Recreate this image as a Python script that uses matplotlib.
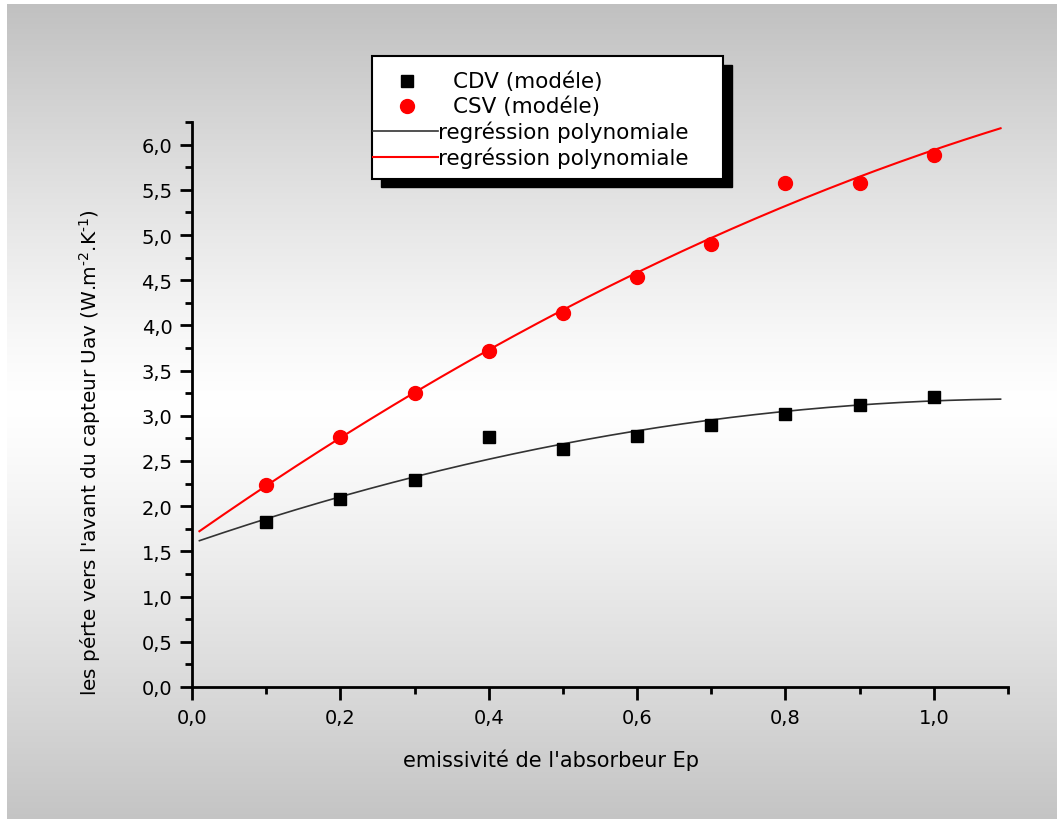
import numpy as np
import matplotlib
matplotlib.use("Agg")
import matplotlib.pyplot as plt
from matplotlib.ticker import MultipleLocator, FuncFormatter
from matplotlib.patches import Rectangle
from matplotlib.lines import Line2D

# ---- data ----
ep = [0.1, 0.2, 0.3, 0.4, 0.5, 0.6, 0.7, 0.8, 0.9, 1.0]
cdv = [1.83, 2.08, 2.29, 2.76, 2.63, 2.78, 2.90, 3.02, 3.12, 3.21]
csv = [2.24, 2.77, 3.25, 3.72, 4.14, 4.53, 4.90, 5.58, 5.58, 5.89]
fit_range = [0.01, 1.09]
x_ticks = [0.0, 0.2, 0.4, 0.6, 0.8, 1.0]
y_ticks = [0.0, 0.5, 1.0, 1.5, 2.0, 2.5, 3.0, 3.5, 4.0, 4.5, 5.0, 5.5, 6.0]
legend_labels = ["CDV (modéle)", "CSV (modéle)", "regréssion polynomiale", "regréssion polynomiale"]

W, H = 1057, 820
plt.rcParams['font.family'] = ['DejaVu Sans']
plt.rcParams['mathtext.default'] = 'regular'
fig = plt.figure(figsize=(W / 100, H / 100), dpi=100)
fig.patch.set_facecolor('white')

def fx(px):
    return px / W

def fy(py):
    return 1 - py / H

# background gradient panel
bg = fig.add_axes([fx(7), fy(820), fx(1057) - fx(7), fy(5) - fy(820)], zorder=-10)
rows = np.linspace(0, 1, 400)
mid = 0.49
vals = np.where(rows < mid, 1 - (1 - 0.755) * ((mid - rows) / mid) ** 1.2,
                1 - (1 - 0.77) * ((rows - mid) / (1 - mid)) ** 1.2)
img = np.repeat(vals[:, None], 2, axis=1)
bg.imshow(np.dstack([img, img, img]), aspect='auto', extent=[0, 1, 1, 0], interpolation='bilinear')
bg.set_axis_off()

ax = fig.add_axes([fx(192), fy(688), fx(1008) - fx(192), fy(123) - fy(688)])
ax.patch.set_alpha(0)

x = np.array(ep)
xf = np.linspace(fit_range[0], fit_range[1], 200)
p_cdv = np.polyfit(x, cdv, 2)
p_csv = np.polyfit(x, csv, 2)
ax.plot(xf, np.polyval(p_cdv, xf), color='#333333', lw=1.2, zorder=2)
ax.plot(xf, np.polyval(p_csv, xf), color='red', lw=1.5, zorder=2)
ax.plot(ep, cdv, 's', color='black', ms=9, zorder=3, clip_on=False)
ax.plot(ep, csv, 'o', color='red', ms=10, mec='red', zorder=3, clip_on=False)

ax.set_xlim(0, 1.1)
ax.set_ylim(0, 6.25)
ax.set_xticks(x_ticks)
ax.set_yticks(y_ticks)
ax.xaxis.set_minor_locator(MultipleLocator(0.1))
ax.yaxis.set_minor_locator(MultipleLocator(0.25))
fmt = FuncFormatter(lambda v, p: f"{v:.1f}".replace('.', ','))
ax.xaxis.set_major_formatter(fmt)
ax.yaxis.set_major_formatter(fmt)
for s in ['top', 'right']:
    ax.spines[s].set_visible(False)
for s in ['left', 'bottom']:
    ax.spines[s].set_linewidth(2)
ax.tick_params(which='major', length=9, width=2, labelsize=14, pad=6)
ax.tick_params(axis='y', which='major', pad=5)
ax.tick_params(which='minor', length=5, width=2)

fig.text(fx(551), fy(760), "emissivité de l'absorbeur Ep", ha='center', va='center', fontsize=15)
fig.text(fx(90), fy(452), "les pérte vers l'avant du capteur Uav (W.m$^{\\text{-2}}$.K$^{\\text{-1}}$)",
         ha='center', va='center', rotation=90, fontsize=14.4)

# legend box with shadow
fig.patches.append(Rectangle((fx(381), fy(188)), fx(732) - fx(381), fy(66) - fy(188),
                             transform=fig.transFigure, facecolor='black', edgecolor='black', zorder=5))
fig.patches.append(Rectangle((fx(372), fy(180)), fx(723) - fx(372), fy(57) - fy(180),
                             transform=fig.transFigure, facecolor='white', edgecolor='black', lw=1.5, zorder=6))
fig.lines.append(Line2D([fx(407)], [fy(82)], marker='s', color='black', ms=9, ls='none',
                        transform=fig.transFigure, zorder=7))
fig.lines.append(Line2D([fx(407)], [fy(107)], marker='o', color='red', ms=10, ls='none',
                        transform=fig.transFigure, zorder=7))
fig.lines.append(Line2D([fx(373), fx(438)], [fy(132), fy(132)], color='#333333', lw=1.2,
                        transform=fig.transFigure, zorder=7))
fig.lines.append(Line2D([fx(373), fx(438)], [fy(158), fy(158)], color='red', lw=1.5,
                        transform=fig.transFigure, zorder=7))
ys = [82, 107, 132, 158]
xs = [453, 453, 438, 438]
for lab, xx, yy in zip(legend_labels, xs, ys):
    fig.text(fx(xx), fy(yy), lab, ha='left', va='center', fontsize=15.5, zorder=8)

fig.savefig('out.png', dpi=100)
